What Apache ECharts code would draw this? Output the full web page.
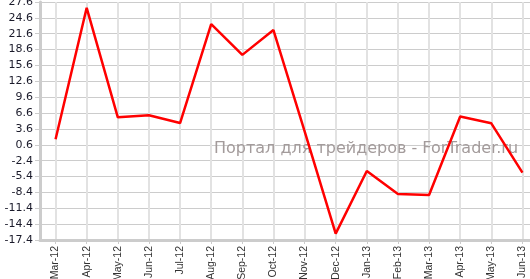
<!DOCTYPE html>
<html>
<head>
<meta charset="utf-8">
<script src="https://cdn.jsdelivr.net/npm/echarts@6/dist/echarts.min.js"></script>
<style>
html,body{margin:0;padding:0;background:#fff;}
#chart{width:530px;height:279px;}
</style>
</head>
<body>
<div id="chart"></div>
<script>
var categories = ['Mar-12','Apr-12','May-12','Jun-12','Jul-12','Aug-12','Sep-12','Oct-12','Nov-12','Dec-12','Jan-13','Feb-13','Mar-13','Apr-13','May-13','Jun-13'];
var values = [1.64, 26.5, 5.8, 6.18, 4.72, 23.4, 17.6, 22.3, 3.2, -16.2, -4.35, -8.7, -8.9, 5.95, 4.66, -4.67];
var yMin = -17.4, yMax = 27.6, yStep = 3;

var chart = echarts.init(document.getElementById('chart'));
chart.setOption({
  animation: false,
  backgroundColor: '#fff',
  grid: { left: 40, right: -8, top: 2, bottom: 39, containLabel: false, outerBoundsMode: 'none' },
  xAxis: {
    type: 'category',
    data: categories,
    boundaryGap: true,
    axisLine: { show: true, onZero: false, lineStyle: { color: '#cccccc', width: 3 } },
    axisTick: { show: true, alignWithLabel: true, length: 4, lineStyle: { color: '#cccccc' } },
    axisLabel: {
      rotate: 90,
      margin: 6,
      interval: 0,
      color: '#333',
      fontSize: 10.5,
      fontFamily: 'Liberation Sans, Arial, sans-serif'
    },
    splitLine: { show: true, alignWithLabel: true, interval: 0, lineStyle: { color: '#e2e2e2', width: 2 } }
  },
  yAxis: {
    type: 'value',
    min: yMin,
    max: yMax,
    interval: yStep,
    axisLine: { show: true, lineStyle: { color: '#cccccc', width: 3 } },
    axisTick: { show: true, length: 5, lineStyle: { color: '#cccccc' } },
    axisLabel: {
      margin: 7,
      color: '#1a1a2a',
      fontSize: 11,
      fontFamily: 'DejaVu Sans, Verdana, sans-serif',
      formatter: function (v) { return v.toFixed(1); }
    },
    splitLine: { show: true, lineStyle: { color: '#cccccc', width: 1 } }
  },
  graphic: [{
    type: 'text',
    left: 214,
    top: 141,
    z: 1,
    style: {
      text: 'Портал для трейдеров - ForTrader.ru',
      fill: '#a39b9b',
      fontSize: 16,
      fontFamily: 'DejaVu Sans, Verdana, sans-serif'
    }
  }],
  series: [{
    type: 'line',
    z: 5,
    data: values,
    showSymbol: false,
    symbol: 'none',
    lineStyle: { color: '#ff0000', width: 2.5 }
  }]
});
</script>
</body>
</html>
